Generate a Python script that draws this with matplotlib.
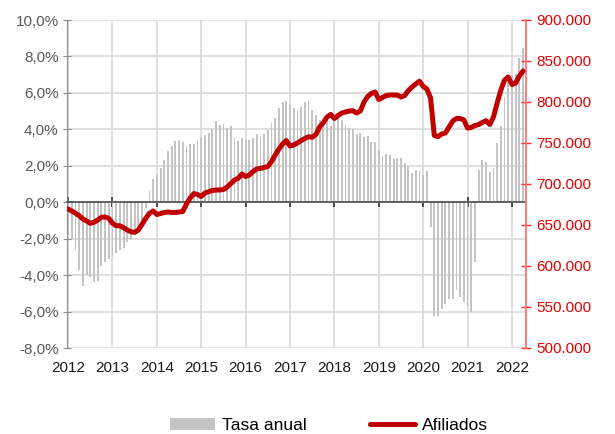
import matplotlib
matplotlib.use('Agg')
import matplotlib.pyplot as plt
import numpy as np
from matplotlib.ticker import FuncFormatter, MultipleLocator

plt.rcParams['font.family'] = ['Liberation Sans', 'DejaVu Sans']

years = list(range(2012, 2023))

# Tasa anual (%), monthly
tasa_2012 = [-1.8, -2.0, -2.6, -3.7, -4.6, -4.0, -4.1, -4.4, -4.3, -3.5, -3.3, -3.1]
tasa_2013 = [-3.0, -2.8, -2.6, -2.5, -2.2, -2.0, -1.8, -1.5, -1.1, -0.3, 0.64, 1.25]
tasa_2014 = [1.5, 1.9, 2.3, 2.8, 3.1, 3.35, 3.4, 3.3, 3.1, 3.2, 3.2, 3.35]
tasa_2015 = [3.55, 3.7, 3.8, 4.0, 4.45, 4.25, 4.3, 4.1, 4.2, 3.5, 3.35, 3.5]
tasa_2016 = [3.42, 3.42, 3.55, 3.73, 3.6, 3.73, 3.97, 4.33, 4.6, 5.16, 5.5, 5.56]
tasa_2017 = [5.35, 5.15, 5.05, 5.25, 5.52, 5.57, 5.06, 4.8, 4.5, 4.4, 4.5, 4.2]
tasa_2018 = [4.5, 4.6, 4.5, 4.25, 4.1, 4.0, 3.75, 3.78, 3.6, 3.62, 3.32, 3.32]
tasa_2019 = [2.85, 2.54, 2.65, 2.6, 2.37, 2.4, 2.4, 2.15, 1.95, 1.58, 1.77, 1.73]
tasa_2020 = [1.52, 1.73, -1.36, -6.25, -6.25, -5.85, -5.6, -5.3, -5.3, -4.8, -5.2, -5.5]
tasa_2021 = [-5.7, -6.05, -3.3, 1.77, 2.3, 2.18, 1.68, 1.88, 3.23, 4.18, 5.75, 6.6]
tasa_2022 = [7.0, 7.05, 7.9, 8.45]

# Afiliados, monthly
afil_2012 = [669500, 667100, 664300, 661300, 657300, 654900, 652100, 653300, 656100, 659400, 659800, 658200]
afil_2013 = [652100, 649100, 649100, 646700, 643900, 641800, 641100, 643900, 650900, 658200, 664300, 667100]
afil_2014 = [662800, 664000, 665200, 665900, 665200, 665200, 665900, 666500, 675600, 682900, 688400, 687200]
afil_2015 = [684800, 689000, 690600, 692100, 692700, 692700, 693300, 696300, 700600, 704900, 707000, 712200]
afil_2016 = [709100, 711000, 715200, 718300, 719100, 720100, 721300, 727400, 735400, 742700, 748800, 753000]
afil_2017 = [746300, 747600, 750000, 753000, 755500, 757600, 757000, 760400, 769500, 774800, 781700, 784800]
afil_2018 = [779900, 783500, 786600, 787800, 789000, 789400, 786600, 789000, 800000, 806700, 810400, 812200]
afil_2019 = [803000, 805500, 807900, 808500, 808500, 808500, 806100, 807900, 814000, 818300, 822000, 825400]
afil_2020 = [818900, 815900, 804900, 759100, 757700, 761000, 762200, 769500, 776800, 779900, 779900, 778000]
afil_2021 = [768300, 768900, 771300, 772600, 775000, 777200, 772600, 781700, 798800, 814600, 826800, 830500]
afil_2022 = [821300, 823200, 831700, 837800]

tasa_anual = (tasa_2012 + tasa_2013 + tasa_2014 + tasa_2015 + tasa_2016 + tasa_2017
              + tasa_2018 + tasa_2019 + tasa_2020 + tasa_2021 + tasa_2022)
afiliados = (afil_2012 + afil_2013 + afil_2014 + afil_2015 + afil_2016 + afil_2017
             + afil_2018 + afil_2019 + afil_2020 + afil_2021 + afil_2022)

months = np.arange(len(tasa_anual))
year_ticks = [12 * k for k in range(len(years))]

fig = plt.figure(figsize=(6.15, 4.34), dpi=100)
ax = fig.add_axes([67 / 615, 1 - 348 / 434, (526 - 67) / 615, (348 - 20) / 434])

bars = ax.bar(months, tasa_anual, width=0.5, color='#c4c4c4', zorder=2, label='Tasa anual')
ax.set_xlim(-0.3, len(months) - 0.2)
ax.set_ylim(-8, 10)
ax.yaxis.set_major_locator(MultipleLocator(2))
ax.yaxis.set_major_formatter(FuncFormatter(lambda v, p: f"{v:.1f}%".replace('.', ',')))
ax.set_xticks(year_ticks)
ax.grid(True, color='#d9d9d9', lw=1.2, zorder=0)
ax.set_axisbelow(True)

ax.spines['top'].set_visible(False)
ax.spines['right'].set_visible(False)
ax.spines['bottom'].set_position(('data', 0))
ax.spines['bottom'].set_color('#404040')
ax.spines['bottom'].set_linewidth(1.1)
ax.spines['bottom'].set_zorder(3)
ax.spines['left'].set_color('#8c8c8c')
ax.tick_params(axis='x', direction='inout', length=7, color='#333333', width=1.2,
               labelbottom=False)
ax.tick_params(axis='y', direction='inout', length=6, color='#8c8c8c',
               labelsize=11, labelcolor='#595959', pad=3)

secax = ax.secondary_xaxis(0)
secax.set_xticks(year_ticks, labels=[str(y) for y in years])
secax.tick_params(length=0, pad=9, labelsize=11, labelcolor='#1a1a1a')
secax.spines['bottom'].set_visible(False)

ax2 = ax.twinx()
line, = ax2.plot(months, afiliados, color='#c00000', lw=3.6, solid_joinstyle='round',
                 solid_capstyle='round', zorder=3, label='Afiliados')
ax2.set_ylim(500000, 900000)
ax2.yaxis.set_major_locator(MultipleLocator(50000))
ax2.yaxis.set_major_formatter(FuncFormatter(lambda v, p: f"{int(round(v)):,}".replace(',', '.')))
for s in ['top', 'left', 'bottom']:
    ax2.spines[s].set_visible(False)
ax2.spines['right'].set_color('#ff7070')
ax2.spines['right'].set_linewidth(1.3)
ax2.tick_params(axis='y', direction='inout', length=7, color='#ff3030', width=1.0,
                labelsize=11, labelcolor='#e60000', pad=4)

fig.legend([bars, line], ['Tasa anual', 'Afiliados'], loc='center',
           bbox_to_anchor=(0.535, 0.02), ncol=2, frameon=False, fontsize=12.5,
           handlelength=2.6, handletextpad=0.4, columnspacing=3.6, borderpad=0)

fig.savefig('out.png', dpi=100)
